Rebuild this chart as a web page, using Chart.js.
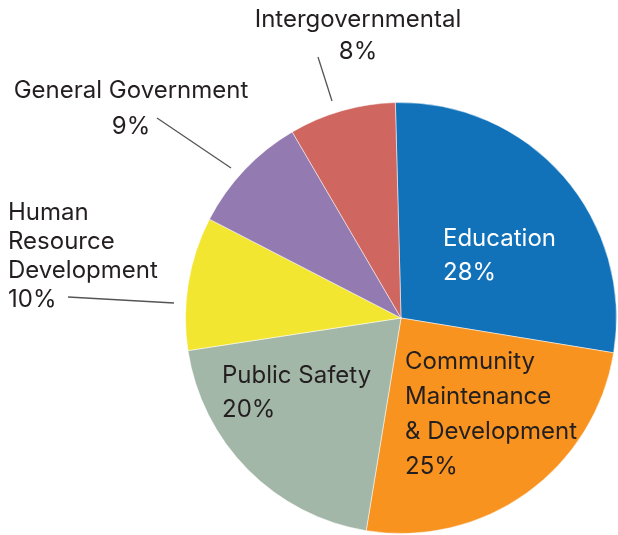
<!DOCTYPE html>
<html>
<head>
<meta charset="utf-8">
<script src="https://cdn.jsdelivr.net/npm/chart.js@4"></script>
<style>
  html, body { margin: 0; padding: 0; background: #fff; }
  #wrap { width: 618px; height: 535px; position: relative; }
</style>
</head>
<body>
<div id="wrap"><canvas id="pie"></canvas></div>
<script>
// budget shares, clockwise from the top
var categories = ['Education', 'Community Maintenance & Development', 'Public Safety',
                  'Human Resource Development', 'General Government', 'Intergovernmental'];
var shares = [28, 25, 20, 10, 9, 8];
var colors = ['#1172BA', '#F7931E', '#A3B7A8', '#F3E630', '#937BB2', '#CF665F'];

// how each label is broken over lines
var labelLines = [
  ['Education'],
  ['Community', 'Maintenance', '& Development'],
  ['Public Safety'],
  ['Human', 'Resource', 'Development'],
  ['General Government'],
  ['Intergovernmental']
];

// where the text goes (x, first line y, line gap, align, colour) and leader lines
var labelPlace = [
  { x: 443, y: 239, gap: 34, align: 'left', color: '#ffffff' },
  { x: 405, y: 362, gap: 35, align: 'left', color: '#231f20' },
  { x: 222, y: 376, gap: 34, align: 'left', color: '#231f20' },
  { x: 8, y: 213, gap: 29, align: 'left', color: '#231f20' },
  { x: 131, y: 91, gap: 36, align: 'center', color: '#231f20' },
  { x: 358, y: 20, gap: 32, align: 'center', color: '#231f20' }
];
var leaders = [
  null, null, null,
  [[68, 297], [174, 303]],
  [[157, 118], [231, 168]],
  [[318, 57], [332, 101]]
];

var labelPlugin = {
  id: 'sliceLabels',
  afterDatasetsDraw: function(chart) {
    var ctx = chart.ctx;
    ctx.save();
    ctx.font = '24px Inter, "Open Sans", sans-serif';
    ctx.textBaseline = 'middle';
    for (var i = 0; i < categories.length; i++) {
      var p = labelPlace[i];
      var lines = labelLines[i].concat([shares[i] + '%']);
      ctx.fillStyle = p.color;
      ctx.textAlign = p.align;
      for (var j = 0; j < lines.length; j++) {
        ctx.fillText(lines[j], p.x, p.y + j * p.gap);
      }
      if (leaders[i]) {
        ctx.strokeStyle = '#555';
        ctx.lineWidth = 1.3;
        ctx.beginPath();
        ctx.moveTo(leaders[i][0][0], leaders[i][0][1]);
        ctx.lineTo(leaders[i][1][0], leaders[i][1][1]);
        ctx.stroke();
      }
    }
    ctx.restore();
  }
};

var ctx = document.getElementById('pie');
var pieChart = new Chart(ctx, {
  type: 'pie',
  data: {
    labels: categories,
    datasets: [{
      data: shares,
      backgroundColor: colors,
      borderColor: 'rgba(255,255,255,0.5)',
      borderWidth: 1
    }]
  },
  options: {
    responsive: true,
    maintainAspectRatio: false,
    animation: false,
    rotation: -1.5,
    layout: { padding: { left: 185, right: 1, top: 102, bottom: 1 } },
    plugins: {
      legend: { display: false },
      tooltip: { enabled: false }
    }
  },
  plugins: [labelPlugin]
});
</script>
</body>
</html>
